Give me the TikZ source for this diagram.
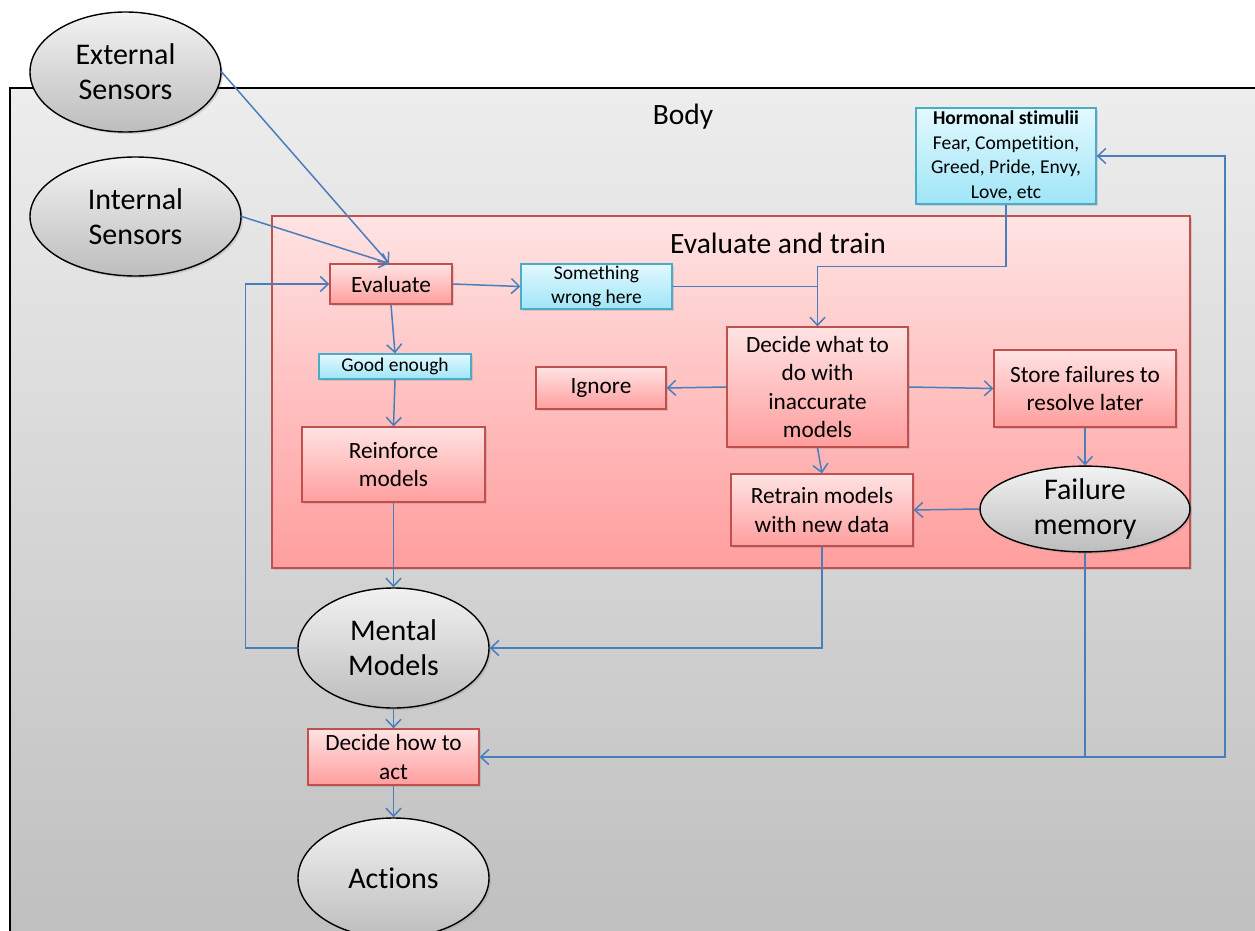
\documentclass[tikz,border=0pt]{standalone}
\usepackage{fontspec}
\setmainfont{Carlito}[Ligatures=NoCommon]
\usetikzlibrary{shapes.geometric,arrows.meta,shadows}
\definecolor{redline}{HTML}{C0504D}
\definecolor{redtop}{HTML}{FFE3E3}
\definecolor{redbot}{HTML}{FF9E9E}
\definecolor{bluline}{HTML}{4BACC6}
\definecolor{blutop}{HTML}{E3F9FF}
\definecolor{blubot}{HTML}{9FE5F7}
\definecolor{arrowc}{HTML}{4A7EBB}
\definecolor{elltop}{HTML}{F2F2F2}
\definecolor{ellbot}{HTML}{BDBDBD}
\definecolor{bodytop}{HTML}{EDEDED}
\definecolor{bodybot}{HTML}{BEBEBE}
\tikzset{
  shad/.style={drop shadow={shadow xshift=2pt,shadow yshift=-2pt,opacity=0.25}},
  ell/.style={ellipse,draw=black,line width=1.4pt,top color=elltop,bottom color=ellbot,
    inner sep=0pt,align=center,font=\fontsize{30}{35}\selectfont,shad},
  redbox/.style={rectangle,draw=redline,line width=1.3pt,top color=redtop,bottom color=redbot,
    inner sep=0pt,align=center,font=\fontsize{23.3}{28.5}\selectfont,shad},
  bluebox/.style={rectangle,draw=bluline,line width=1.3pt,top color=blutop,bottom color=blubot,
    inner sep=0pt,align=center,font=\fontsize{19.5}{24}\selectfont,shad},
  conn/.style={draw=arrowc,line width=1.5pt,-{Straight Barb[length=8pt,width=15pt]}},
  plain/.style={draw=arrowc,line width=1.5pt},
}
\begin{document}
\begin{tikzpicture}[x=1pt,y=-1pt]
\useasboundingbox (0,0) rectangle (1255,931);
\fill[white] (0,0) rectangle (1255,931);
% body
\draw[draw=black,line width=1.2pt,top color=bodytop,bottom color=bodybot] (10,88) rectangle (1280,960);
\node[font=\fontsize{29.5}{35}\selectfont] (bodylbl) at (683,117) {Body};
% evaluate and train container
\node[rectangle,draw=redline,line width=1.3pt,top color=redtop,bottom color=redbot,
  minimum width=918,minimum height=352,inner sep=0pt,shad] (et) at (731,392) {};
\node[font=\fontsize{29.5}{35}\selectfont] (etlbl) at (778,243) {Evaluate and train};
% nodes
\node[ell,minimum width=191,minimum height=120] (ext) at (125.5,72) {External\\Sensors};
\node[ell,minimum width=211,minimum height=119] (int) at (135.5,216.5) {Internal\\Sensors};
\node[bluebox,minimum width=180,minimum height=96,font=\fontsize{19.6}{24.5}\selectfont] (horm) at (1006,156)
  {\textbf{Hormonal stimulii}\\Fear, Competition,\\Greed, Pride, Envy,\\Love, etc};
\node[redbox,minimum width=122,minimum height=40] (eval) at (391,284) {Evaluate};
\node[bluebox,minimum width=151,minimum height=45] (wrong) at (596.5,286.5) {Something\\wrong here};
\node[bluebox,minimum width=152,minimum height=25] (good) at (395,366.5) {Good enough};
\node[redbox,minimum width=130,minimum height=42] (ignore) at (601,388) {Ignore};
\node[redbox,minimum width=183,minimum height=75] (reinf) at (393.5,464.5) {Reinforce\\models};
\node[redbox,minimum width=181,minimum height=120] (dwhat) at (817.5,387) {Decide what to\\do with\\inaccurate\\models};
\node[redbox,minimum width=182,minimum height=77] (store) at (1085,388.5) {Store failures to\\resolve later};
\node[ell,minimum width=210,minimum height=78] (fmem) at (1085,509) {Failure\\memory};
\node[redbox,minimum width=182,minimum height=72] (retrain) at (822,510) {Retrain models\\with new data};
\node[ell,minimum width=191,minimum height=120] (mental) at (393.5,648) {Mental\\Models};
\node[redbox,minimum width=171,minimum height=56] (dhow) at (393.5,757) {Decide how to\\act};
\node[ell,minimum width=191,minimum height=120] (actions) at (393.5,878) {Actions};
\coordinate (rc) at (1225,757);
% connectors
\draw[conn] (ext.east) -- ([xshift=-2pt]eval.north);
\draw[conn] (int.east) -- ([xshift=-2pt]eval.north);
\draw[conn] (mental.west) -- ++(-52,0) |- (eval.west);
\draw[conn] (eval.east) -- (wrong.west);
\draw[plain] (wrong.east) -- (wrong.east -| dwhat.north);
\draw[conn] (horm.south) -- ++(0,62) -| (dwhat.north);
\draw[conn] (eval.south) -- (good.north);
\draw[conn] (good.south) -- (reinf.north);
\draw[conn] (reinf.south) -- (mental.north);
\draw[conn] (dwhat.west) -- (ignore.east);
\draw[conn] (dwhat.east) -- (store.west);
\draw[conn] (dwhat.south) -- (retrain.north);
\draw[conn] (store.south) -- (fmem.north);
\draw[conn] (fmem.west) -- (retrain.east);
\draw[conn] (retrain.south) |- (mental.east);
\draw[conn] (fmem.south) |- (dhow.east);
\draw[conn] (fmem.south) |- (rc) |- (horm.east);
\draw[conn] (mental.south) -- (dhow.north);
\draw[conn] (dhow.south) -- (actions.north);
\end{tikzpicture}
\end{document}
